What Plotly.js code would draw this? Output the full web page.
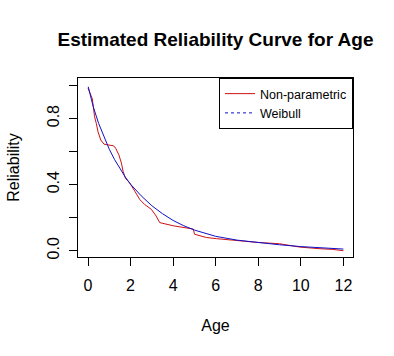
<!DOCTYPE html>
<html lang="en">
<head>
  <meta charset="UTF-8">
  <title>Estimated Reliability Curve for Age</title>
  <script src="https://cdn.plot.ly/plotly-3.0.1.min.js"></script>
  <style>
    body { margin: 0; background: #ffffff; }
    #chart { width: 394px; height: 356px; }
  </style>
</head>
<body>
  <div id="chart"></div>
  <script>
    const npAge = [0, 0.1, 0.2, 0.25, 0.31, 0.39, 0.47, 0.6, 0.75, 0.95, 1.2, 1.3, 1.45, 1.57, 1.65, 1.75, 1.96, 2.2, 2.43, 2.66, 2.98, 3.2, 3.37, 4.0, 4.46, 4.95, 5.0, 5.56, 6.03, 6.97, 7.99, 9.0, 9.95, 10.9, 11.5, 12.0];
    const npRel = [0.984, 0.95, 0.92, 0.87, 0.81, 0.77, 0.72, 0.67, 0.645, 0.64, 0.635, 0.62, 0.58, 0.53, 0.48, 0.44, 0.41, 0.36, 0.31, 0.28, 0.25, 0.21, 0.17, 0.151, 0.143, 0.131, 0.10, 0.08, 0.073, 0.060, 0.050, 0.042, 0.022, 0.012, 0.008, 0.0];

    // fitted Weibull reliability
    const wbAge = [0.01, 0.1, 0.25, 0.5, 0.75, 1, 1.25, 1.5, 1.75, 2, 2.5, 3, 3.5, 4, 4.5, 5, 5.5, 6, 7, 8, 9, 10, 11, 12];
    const wbRel = [0.992, 0.94, 0.869, 0.770, 0.686, 0.614, 0.551, 0.495, 0.446, 0.402, 0.332, 0.272, 0.224, 0.183, 0.151, 0.125, 0.104, 0.087, 0.064, 0.049, 0.036, 0.025, 0.017, 0.010];

    const xTicks = [0, 2, 4, 6, 8, 10, 12];
    const yTicks = [0, 0.2, 0.4, 0.6, 0.8, 1.0];
    const yTickText = ["0.0", "", "0.4", "", "0.8", ""];

    const font = "Liberation Sans, Arial, sans-serif";

    const traces = [
      {
        x: npAge, y: npRel, type: 'scatter', mode: 'lines',
        name: 'Non-parametric',
        line: { color: '#d01010', width: 1 }
      },
      {
        x: wbAge, y: wbRel, type: 'scatter', mode: 'lines',
        name: 'Weibull', showlegend: false, legendgroup: 'wb',
        line: { color: '#1010c8', width: 1 }
      },
      // legend entry only (dashed in the legend, like the original)
      {
        x: [null], y: [null], type: 'scatter', mode: 'lines',
        name: 'Weibull', legendgroup: 'wb',
        line: { color: '#1010c8', width: 1, dash: '3px,3px' }
      }
    ];

    const axisCommon = {
      showgrid: false, zeroline: false,
      showline: true, mirror: true, linecolor: '#000', linewidth: 1,
      ticks: 'outside', ticklen: 8, tickcolor: '#000', tickwidth: 1,
      tickfont: { family: font, size: 16, color: '#000' }
    };

    const layout = {
      width: 394, height: 356,
      margin: { l: 78, r: 41, t: 78, b: 99 },
      paper_bgcolor: '#fff', plot_bgcolor: '#fff',
      font: { family: font, color: '#000' },
      title: {
        text: '<b>Estimated Reliability Curve for Age</b>',
        font: { family: font, size: 19, color: '#000' },
        x: 0.5, xref: 'paper', y: 1 - 39 / 356, yref: 'container', yanchor: 'middle'
      },
      xaxis: Object.assign({}, axisCommon, {
        range: [-0.47, 12.45],
        tickvals: xTicks,
        ticklabelstandoff: 6,
        title: { text: 'Age', font: { family: font, size: 16, color: '#000' }, standoff: 26 }
      }),
      yaxis: Object.assign({}, axisCommon, {
        range: [-0.038, 1.045],
        tickvals: yTicks, ticktext: yTickText,
        tickangle: -90,
        ticklabelstandoff: 4,
        title: { text: 'Reliability', font: { family: font, size: 16, color: '#000' }, standoff: 20 }
      }),
      legend: {
        x: 1, xanchor: 'right', y: 1, yanchor: 'top',
        bordercolor: '#000', borderwidth: 1, bgcolor: '#fff',
        font: { family: font, size: 12.5, color: '#000' },
        tracegroupgap: 0
      },
      showlegend: true
    };

    Plotly.newPlot('chart', traces, layout, { displayModeBar: false, staticPlot: true });
  </script>
</body>
</html>
